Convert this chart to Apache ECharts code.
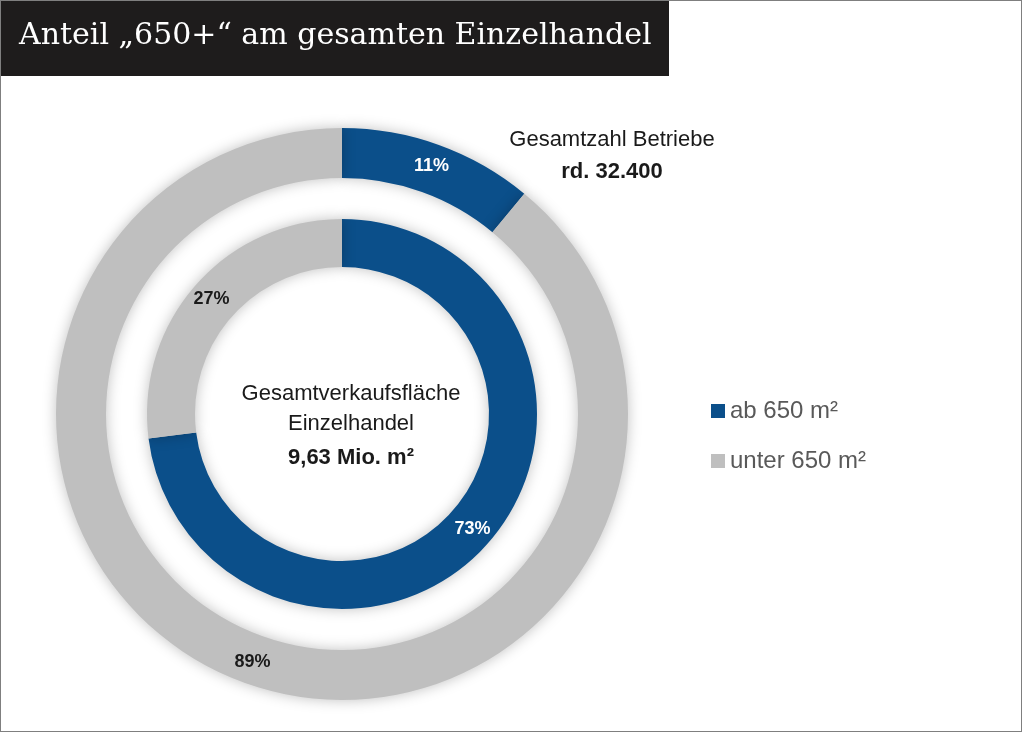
<!DOCTYPE html>
<html lang="de">
<head>
<meta charset="UTF-8">
<title>Anteil 650+</title>
<script src="https://cdn.jsdelivr.net/npm/echarts@6/dist/echarts.min.js"></script>
<style>
  html, body { margin: 0; padding: 0; background: #fff; }
  #main { width: 1022px; height: 732px; box-sizing: border-box; border: 1px solid #7f7f7f; }
</style>
</head>
<body>
<div id="main"></div>
<script>
// Daten
var categories = ['ab 650 m²', 'unter 650 m²'];
var betriebe = [11, 89];        // äußerer Ring: Gesamtzahl Betriebe
var flaeche = [73, 27];         // innerer Ring: Verkaufsfläche
var colors = ['#0b4f8a', '#bfbfbf'];
var labelColors = ['#ffffff', '#1a1a1a'];

function ringData(vals) {
    return vals.map(function (v, i) {
        return {
            name: categories[i],
            value: v,
            itemStyle: { color: colors[i] },
            label: { color: labelColors[i] }
        };
    });
}

var myChart = echarts.init(document.getElementById('main'));

var ringStyle = {
    shadowBlur: 14,
    shadowColor: 'rgba(0,0,0,0.25)'
};
var lbl = {
    show: true,
    position: 'inside',
    formatter: '{c}%',
    fontFamily: 'Arial, Liberation Sans, sans-serif',
    fontSize: 18,
    fontWeight: 'bold'
};

var option = {
    animation: false,
    legend: {
        orient: 'vertical',
        left: 705,
        top: 393,
        itemWidth: 14,
        itemHeight: 14,
        itemGap: 26,
        icon: 'rect',
        data: categories,
        textStyle: { fontFamily: 'Arial, Liberation Sans, sans-serif', fontSize: 24, color: '#595959' }
    },
    graphic: [
        { type: 'rect', left: 0, top: 0, shape: { width: 668, height: 75 }, style: { fill: '#1e1c1c' } },
        { type: 'text', left: 18, top: 20, style: { text: 'Anteil „650+“ am gesamten Einzelhandel', fill: '#fff', font: '30px "DejaVu Serif", "Liberation Serif", serif' } },
        { type: 'text', x: 611, y: 128, style: { text: 'Gesamtzahl Betriebe', fill: '#1a1a1a', font: '22px Arial, "Liberation Sans", sans-serif', align: 'center' } },
        { type: 'text', x: 611, y: 160, style: { text: 'rd. 32.400', fill: '#1a1a1a', font: 'bold 22px Arial, "Liberation Sans", sans-serif', align: 'center' } },
        { type: 'text', x: 350, y: 382, style: { text: 'Gesamtverkaufsfläche', fill: '#1a1a1a', font: '22px Arial, "Liberation Sans", sans-serif', align: 'center' } },
        { type: 'text', x: 350, y: 412, style: { text: 'Einzelhandel', fill: '#1a1a1a', font: '22px Arial, "Liberation Sans", sans-serif', align: 'center' } },
        { type: 'text', x: 350, y: 446, style: { text: '9,63 Mio. m²', fill: '#1a1a1a', font: 'bold 22px Arial, "Liberation Sans", sans-serif', align: 'center' } }
    ],
    series: [
        {
            type: 'pie',
            center: [341, 413],
            radius: [236, 286],
            startAngle: 90,
            clockwise: true,
            label: lbl,
            labelLine: { show: false },
            itemStyle: ringStyle,
            data: ringData(betriebe)
        },
        {
            type: 'pie',
            center: [341, 413],
            radius: [147, 195],
            startAngle: 90,
            clockwise: true,
            label: lbl,
            labelLine: { show: false },
            itemStyle: ringStyle,
            data: ringData(flaeche)
        }
    ]
};

myChart.setOption(option);
</script>
</body>
</html>
